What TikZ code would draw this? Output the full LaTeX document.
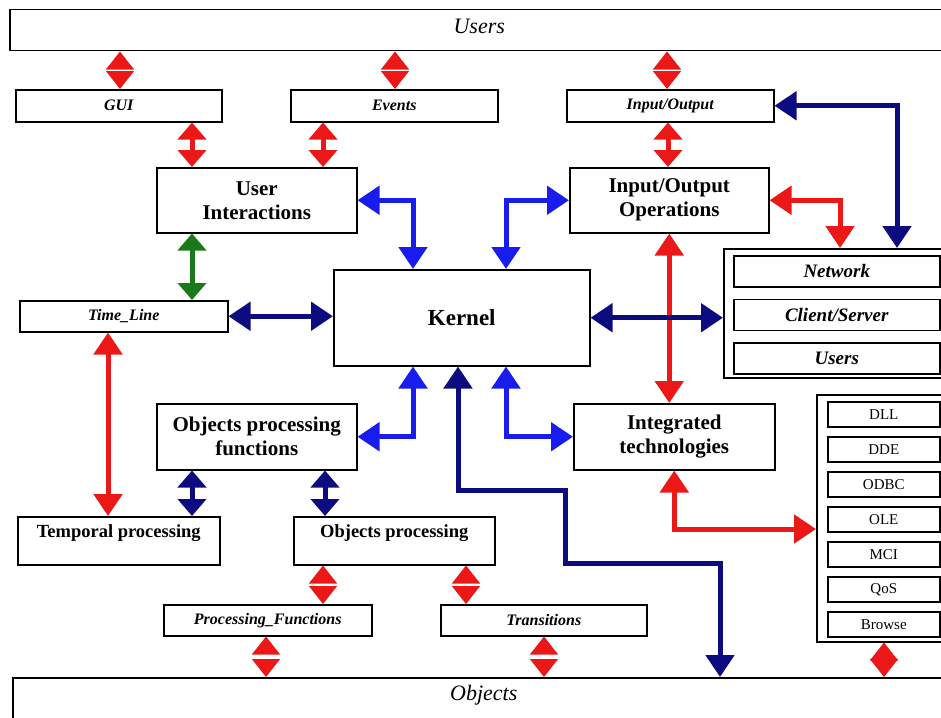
\documentclass[tikz,border=0pt]{standalone}
\usepackage{fontspec}
\setmainfont{Liberation Serif}
\usetikzlibrary{arrows.meta}

\definecolor{myred}{RGB}{236,24,24}
\definecolor{myblue}{RGB}{24,28,236}
\definecolor{mynavy}{RGB}{12,12,128}
\definecolor{mygreen}{RGB}{26,122,26}

\tikzset{every picture/.style={line width=0.75pt}}
\tikzset{
box/.style={draw, line width=1.5pt, inner sep=0pt, align=center, anchor=north west},
wh/.style 2 args={minimum width=#1, minimum height=#2},
smalllbl/.style={font=\fontsize{16}{18}\selectfont\bfseries\itshape},
midlbl/.style={font=\fontsize{18.5}{21}\selectfont\bfseries},
biglbl/.style={font=\fontsize{21}{24}\selectfont\bfseries},
netlbl/.style={font=\fontsize{19}{21}\selectfont\bfseries\itshape},
techlbl/.style={font=\fontsize{15}{17}\selectfont},
endlbl/.style={font=\fontsize{22}{24}\selectfont\itshape},
arr/.style={line width=5pt, {Triangle[width=28pt,length=22pt]}-{Triangle[width=28pt,length=22pt]}},
shortarr/.style={line width=5pt, {Triangle[width=28pt,length=17pt]}-{Triangle[width=28pt,length=17pt]}},
redarr/.style={arr, draw=myred},
bluearr/.style={arr, draw=myblue},
navyarr/.style={arr, draw=mynavy},
reddiam/.style={line width=1.5pt, draw=white, {Triangle[width=28pt,length=18pt,color=myred]}-{Triangle[width=28pt,length=18pt,color=myred]}}
}

\begin{document}
\begin{tikzpicture}[x=1pt,y=1pt,yscale=-1]
\useasboundingbox (0,0) rectangle (941,717);

% Users / Objects
\node[box, wh={939pt}{41pt}, endlbl, text depth=7.5pt] (users) at (9,9) {Users};
\node[box, wh={942pt}{46pt}, endlbl, text depth=15pt] (objects) at (12,677) {Objects};

% Top row
\node[box, wh={206pt}{32pt}, smalllbl] (gui) at (15,89) {GUI};
\node[box, wh={207pt}{32pt}, smalllbl] (events) at (290,89) {Events};
\node[box, wh={207pt}{32pt}, smalllbl] (io) at (566,89) {Input/Output};

% Second row
\node[box, wh={200pt}{65pt}, biglbl] (ui) at (156,167) {User\\Interactions};
\node[box, wh={199pt}{65pt}, biglbl] (ioops) at (569,167) {Input/Output\\Operations};

% Kernel
\node[box, wh={256pt}{96pt}, font=\fontsize{23}{25}\selectfont\bfseries] (kernel) at (333,269) {Kernel};
\node[box, wh={208pt}{31pt}, smalllbl] (tl) at (19,300) {Time\_Line};

% Network group
\node[box, wh={237pt}{129pt}] (netgrp) at (723,248) {};
\foreach \t [count=\i from 0] in {Network,Client/Server,Users}
  \node[box, wh={206pt}{31pt}, netlbl] (net\i) at (733,{255+43.5*\i}) {\t};

% Lower middle
\node[box, wh={200pt}{66pt}, biglbl] (opf) at (156,403) {Objects processing\\functions};
\node[box, wh={201pt}{66pt}, biglbl] (it) at (573,403) {Integrated\\technologies};

% Technologies group
\node[box, wh={144pt}{247pt}] (techgrp) at (816,394) {};
\foreach \t [count=\i from 0] in {DLL,DDE,ODBC,OLE,MCI,QoS,Browse}
  \node[box, wh={112pt}{25pt}, techlbl] (tech\i) at (827,{401+35*\i}) {\t};

% Bottom rows
\node[box, wh={202pt}{48pt}, midlbl, text height=21pt, text depth=27pt] (tp) at (17,516) {Temporal processing};
\node[box, wh={201pt}{48pt}, midlbl, text height=21pt, text depth=27pt] (op) at (293,516) {Objects processing};
\node[box, wh={208pt}{31pt}, smalllbl] (pf) at (163,604) {Processing\_Functions};
\node[box, wh={206pt}{31pt}, smalllbl] (tr) at (440,604) {Transitions};

% Red links
\draw[reddiam] (users.south -| 120,0) -- (gui.north -| 120,0);
\draw[reddiam] (users.south -| 395,0) -- (events.north -| 395,0);
\draw[reddiam] (users.south -| 667,0) -- (io.north -| 667,0);
\draw[shortarr, draw=myred] (gui.south -| 192,0) -- (ui.north -| 192,0);
\draw[shortarr, draw=myred] (events.south -| 323,0) -- (ui.north -| 323,0);
\draw[shortarr, draw=myred] (io.south -| 668,0) -- (ioops.north -| 668,0);
\draw[redarr] (ioops.south) -- (ioops.south |- it.north);
\draw[redarr] (ioops.east) -| (netgrp.north -| 840,0);
\draw[redarr] (tl.south -| 108,0) -- (tp.north -| 108,0);
\draw[redarr] (it.south) |- (techgrp.west |- 0,529);
\draw[reddiam] (op.south -| 323,0) -- (pf.north -| 323,0);
\draw[reddiam] (op.south -| 466,0) -- (tr.north -| 466,0);
\draw[reddiam] (pf.south -| 266,0) -- (objects.north -| 266,0);
\draw[reddiam] (tr.south -| 544,0) -- (objects.north -| 544,0);
\draw[reddiam] (techgrp.south -| 884,0) -- (objects.north -| 884,0);

% Green link
\draw[shortarr, draw=mygreen] (ui.south -| 192,0) -- (tl.north -| 192,0);

% Blue links
\draw[bluearr] (ui.east) -| (kernel.north -| 413,0);
\draw[bluearr] (kernel.north -| 506,0) |- (ioops.west);
\draw[bluearr] (kernel.south -| 413,0) |- (opf.east);
\draw[bluearr] (kernel.south -| 506,0) |- (it.west);

% Navy links
\draw[navyarr] (tl.east) -- (tl.east -| kernel.west);
\draw[navyarr] (kernel.east) -- (kernel.east -| netgrp.west);
\draw[navyarr] (io.east) -| (netgrp.north -| 897,0);
\draw[shortarr, draw=mynavy] (opf.south -| 192,0) -- (tp.north -| 192,0);
\draw[shortarr, draw=mynavy] (opf.south -| 325,0) -- (op.north -| 325,0);
\draw[navyarr] (kernel.south -| 458,0) |- (565,490) |- (720,563) -- (objects.north -| 720,0);

\end{tikzpicture}
\end{document}
